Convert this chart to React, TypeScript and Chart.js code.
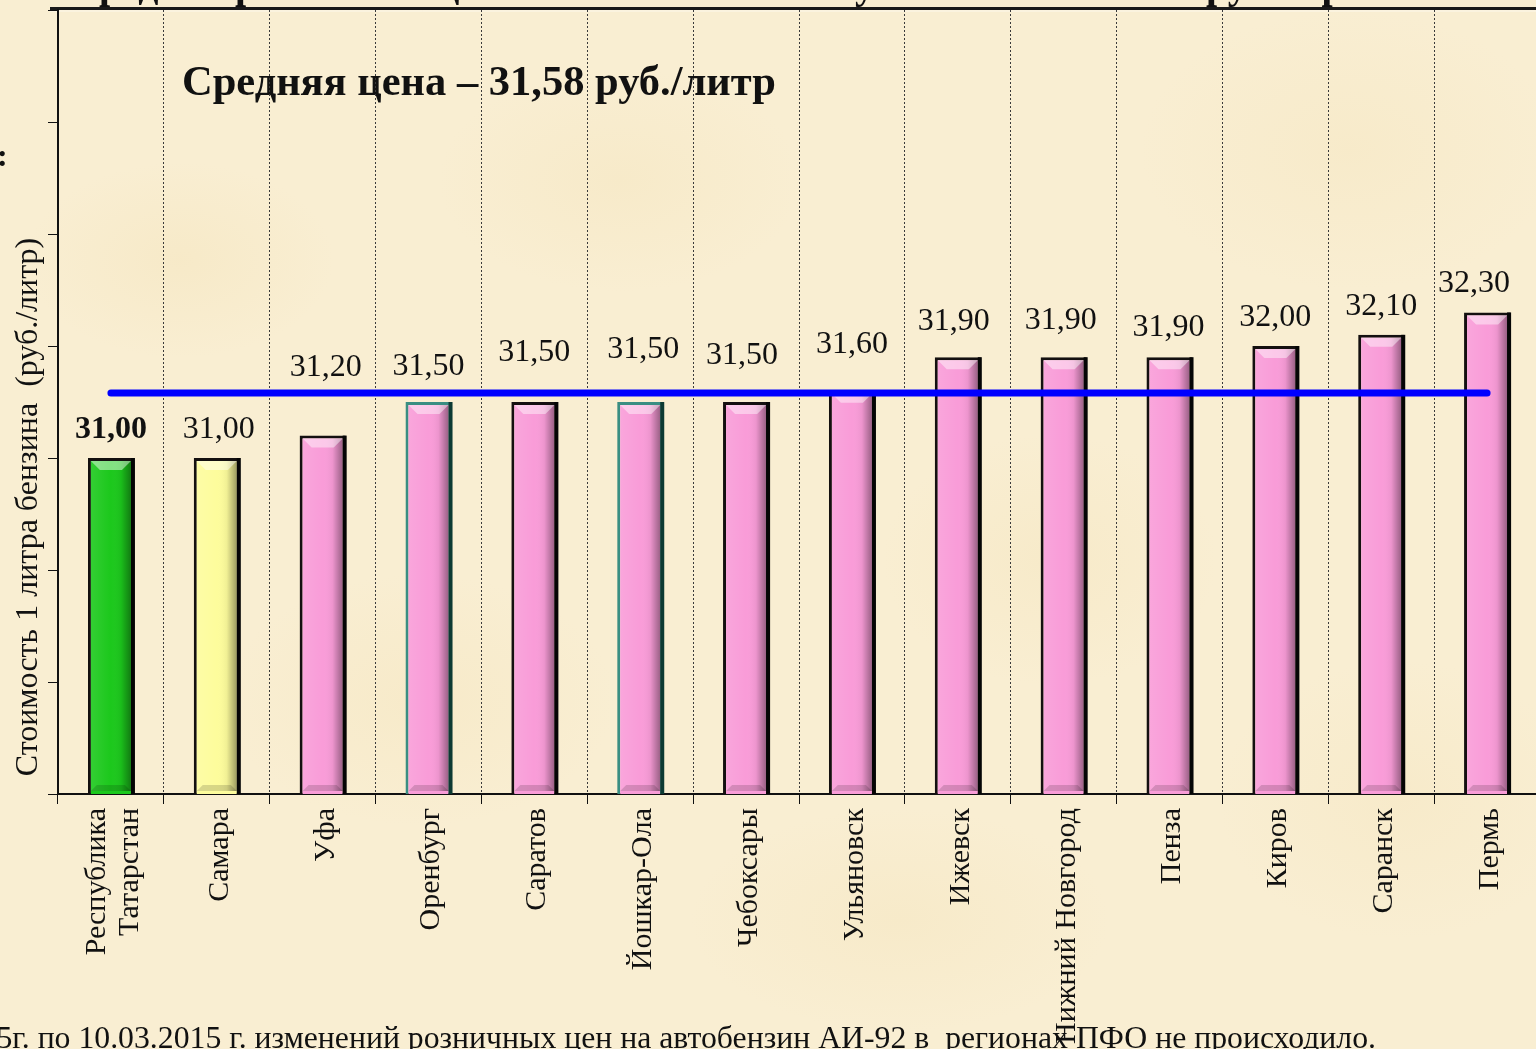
import React, { useEffect, useRef } from "react";
import { Chart, registerables } from "chart.js";

Chart.register(...registerables);

// ---------- data ----------
const categories: string[][] = [
  ["Республика", "Татарстан"],
  ["Самара"],
  ["Уфа"],
  ["Оренбург"],
  ["Саратов"],
  ["Йошкар-Ола"],
  ["Чебоксары"],
  ["Ульяновск"],
  ["Ижевск"],
  ["Нижний Новгород"],
  ["Пенза"],
  ["Киров"],
  ["Саранск"],
  ["Пермь"],
];
const prices = [31.0, 31.0, 31.2, 31.5, 31.5, 31.5, 31.5, 31.6, 31.9, 31.9, 31.9, 32.0, 32.1, 32.3];
const averagePrice = 31.58;
const yMin = 28;
const yMax = 35;
const averageText = "Средняя цена – 31,58 руб./литр";
const yAxisTitle = "Стоимость 1 литра бензина  (руб./литр)";
const footnote = "С 03.03.2015г. по 10.03.2015 г. изменений розничных цен на автобензин АИ-92 в  регионах ПФО не происходило.";
const slideTitle = "Средняя розничная цена бензина АИ-92 в субъектах ПФО по группе регионов";

// ---------- styles ----------
const SERIF = "'Liberation Serif', 'Times New Roman', serif";
const BAR = 1; // dataset index of the bars
const fillColors = prices.map((_, i) => (i === 0 ? "#1cc81c" : i === 1 ? "#fdfc9c" : "#f99cd8"));
const edgeColors = prices.map((_, i) => (i === 3 || i === 5 ? "#3a8e82" : "#141010"));
// label lift above bar top (px), as laid out in the slide
const labelLift = [28, 28, 68, 35, 49, 52, 46, 46, 36, 37, 30, 28, 28, 29];
const labelShiftX = [0, 2, 3, 0, 0, 3, -4, 0, -4, -3, -1, 0, 0, -13];

const decoPlugin = {
  id: "deco",
  beforeDraw(chart: any) {
    const ctx = chart.ctx;
    ctx.save();
    ctx.fillStyle = "#111";
    ctx.font = `bold 40px ${SERIF}`;
    ctx.textBaseline = "alphabetic";
    ctx.textAlign = "left";
    ctx.fillText(slideTitle, 70, -2);
    ctx.strokeStyle = "#1a1a1a";
    ctx.lineWidth = 3;
    ctx.beginPath();
    ctx.moveTo(50, 8.5);
    ctx.lineTo(1540, 8.5);
    ctx.stroke();
    ctx.strokeStyle = "rgba(255,255,255,0.6)";
    ctx.lineWidth = 1;
    ctx.beginPath();
    ctx.moveTo(50, 11);
    ctx.lineTo(1540, 11);
    ctx.stroke();
    ctx.font = `bold 32px ${SERIF}`;
    ctx.fillStyle = "#111";
    ctx.fillText(":", -3, 166);
    ctx.font = `32px ${SERIF}`;
    ctx.translate(29, 507);
    ctx.rotate(-Math.PI / 2);
    ctx.textAlign = "center";
    ctx.textBaseline = "middle";
    ctx.fillText(yAxisTitle, 0, 0);
    ctx.restore();

    ctx.save();
    ctx.font = `31.75px ${SERIF}`;
    ctx.fillStyle = "#111";
    ctx.textAlign = "right";
    ctx.textBaseline = "alphabetic";
    ctx.fillText(footnote, 1376, 1048);
    ctx.font = `bold 42.5px ${SERIF}`;
    ctx.textAlign = "left";
    ctx.fillText(averageText, 182, 95);
    ctx.restore();
  },
  afterDraw(chart: any) {
    // category labels, rotated, ending just under the axis ticks
    const ctx = chart.ctx;
    const xs = chart.scales.x;
    const top = chart.chartArea.bottom + 14;
    const lh = 33;
    ctx.save();
    ctx.fillStyle = "#111";
    ctx.font = `30px ${SERIF}`;
    ctx.textAlign = "right";
    ctx.textBaseline = "middle";
    categories.forEach((lines, i) => {
      const x = xs.getPixelForValue(i) + 3;
      ctx.save();
      ctx.translate(x, top);
      ctx.rotate(-Math.PI / 2);
      lines.forEach((ln, j) => {
        ctx.fillText(ln, 0, (j - (lines.length - 1) / 2) * lh);
      });
      ctx.restore();
    });
    ctx.restore();
  },
  afterDatasetDraw(chart: any, args: any) {
    if (args.index !== BAR) return;
    const ctx = chart.ctx;
    const area = chart.chartArea;
    const meta = chart.getDatasetMeta(BAR);
    meta.data.forEach((bar: any, i: number) => {
      const p = bar.getProps(["x", "y", "base", "width"], true);
      if (!isFinite(p.x) || !isFinite(p.width)) return;
      const bw = 3;
      const baseY = Math.min(p.base, area.bottom);
      const l = p.x - p.width / 2 + bw;
      const r = p.x + p.width / 2 - bw;
      const t = p.y + bw;
      const b = baseY - bw;
      const w = r - l;
      ctx.save();
      const g = ctx.createLinearGradient(l, 0, r, 0);
      g.addColorStop(0, "rgba(255,255,255,0.10)");
      g.addColorStop(0.5, "rgba(255,255,255,0)");
      g.addColorStop(0.75, "rgba(0,0,0,0.05)");
      g.addColorStop(1, "rgba(0,0,0,0.38)");
      ctx.fillStyle = g;
      ctx.fillRect(l, t, w, b - t);
      const bev = 9;
      ctx.beginPath();
      ctx.moveTo(l, t);
      ctx.lineTo(r, t);
      ctx.lineTo(r - bev, t + bev);
      ctx.lineTo(l + bev, t + bev);
      ctx.closePath();
      ctx.fillStyle = "rgba(255,255,255,0.45)";
      ctx.fill();
      ctx.beginPath();
      ctx.moveTo(l, b);
      ctx.lineTo(r, b);
      ctx.lineTo(r - 6, b - 6);
      ctx.lineTo(l + 6, b - 6);
      ctx.closePath();
      ctx.fillStyle = "rgba(0,0,0,0.15)";
      ctx.fill();
      ctx.fillStyle = i === 3 || i === 5 ? "#0d3a33" : "#050505";
      ctx.fillRect(r, p.y, bw + 1, baseY - p.y);
      ctx.restore();
    });
  },
  afterDatasetsDraw(chart: any) {
    const ctx = chart.ctx;
    const meta = chart.getDatasetMeta(BAR);
    ctx.save();
    ctx.fillStyle = "#111";
    ctx.textAlign = "center";
    ctx.textBaseline = "middle";
    meta.data.forEach((bar: any, i: number) => {
      const p = bar.getProps(["x", "y"], true);
      ctx.font = `${i === 0 ? "bold " : ""}32px ${SERIF}`;
      const txt = prices[i].toFixed(2).replace(".", ",");
      ctx.fillText(txt, p.x + labelShiftX[i], p.y - labelLift[i]);
    });
    ctx.restore();
  },
};

export default function App() {
  const ref = useRef<HTMLCanvasElement | null>(null);
  useEffect(() => {
    if (!ref.current) return;
    Chart.defaults.font.family = SERIF;
    const chart = new Chart(ref.current, {
      type: "bar",
      data: {
        labels: categories.map((c) => c.join(" ")),
        datasets: [
          {
            type: "line",
            label: "Средняя цена",
            data: prices.map(() => averagePrice),
            borderColor: "#0000ff",
            borderWidth: 7,
            borderCapStyle: "round",
            pointRadius: 0,
            order: 0,
          } as any,
          {
            type: "bar",
            label: "Цена",
            data: prices,
            backgroundColor: fillColors,
            borderColor: edgeColors,
            borderWidth: 3,
            borderSkipped: false,
            barPercentage: 0.435,
            categoryPercentage: 1,
            order: 1,
          } as any,
        ],
      },
      options: {
        responsive: false,
        animation: false,
        layout: { padding: { left: 48, top: 10, right: 0, bottom: 0 } },
        plugins: { legend: { display: false }, tooltip: { enabled: false }, title: { display: false } },
        scales: {
          x: {
            offset: true,
            grid: {
              display: true,
              offset: true,
              color: "#3a3a3a",
              lineWidth: 1,
              drawOnChartArea: true,
              drawTicks: true,
              tickLength: 10,
              tickColor: "#111",
              tickWidth: 1,
            },
            border: { display: true, color: "#111", width: 2, dash: [2, 2] },
            ticks: { display: false },
            afterFit: (s: any) => {
              s.height = 255;
            },
          },
          y: {
            min: yMin,
            max: yMax,
            grid: {
              display: true,
              drawOnChartArea: false,
              drawTicks: true,
              tickLength: 10,
              tickColor: "#111",
              tickWidth: 1,
            },
            border: { display: true, color: "#111", width: 2 },
            ticks: { display: false, stepSize: 1 },
            afterFit: (s: any) => {
              s.width = 10;
            },
          },
        },
      },
      plugins: [decoPlugin],
    });
    return () => chart.destroy();
  }, []);

  const bg = [
    "radial-gradient(ellipse 220px 140px at 180px 260px, rgba(240,220,170,0.25), rgba(240,220,170,0) 70%)",
    "radial-gradient(ellipse 260px 160px at 620px 180px, rgba(240,220,170,0.22), rgba(240,220,170,0) 70%)",
    "radial-gradient(ellipse 240px 180px at 1050px 560px, rgba(240,220,170,0.22), rgba(240,220,170,0) 70%)",
    "radial-gradient(ellipse 300px 200px at 1350px 150px, rgba(240,220,170,0.2), rgba(240,220,170,0) 70%)",
    "radial-gradient(ellipse 280px 180px at 420px 700px, rgba(240,220,170,0.22), rgba(240,220,170,0) 70%)",
    "radial-gradient(ellipse 300px 160px at 900px 920px, rgba(240,220,170,0.22), rgba(240,220,170,0) 70%)",
    "radial-gradient(ellipse 260px 200px at 1400px 800px, rgba(240,220,170,0.2), rgba(240,220,170,0) 70%)",
  ].join(",");

  return (
    <div
      style={{
        position: "fixed",
        left: 0,
        top: 0,
        width: 1536,
        height: 1049,
        overflow: "hidden",
        backgroundColor: "#f9eed2",
        backgroundImage: bg,
      }}
    >
      <canvas ref={ref} width={1540} height={1049} style={{ display: "block", width: 1540, height: 1049 }} />
    </div>
  );
}
